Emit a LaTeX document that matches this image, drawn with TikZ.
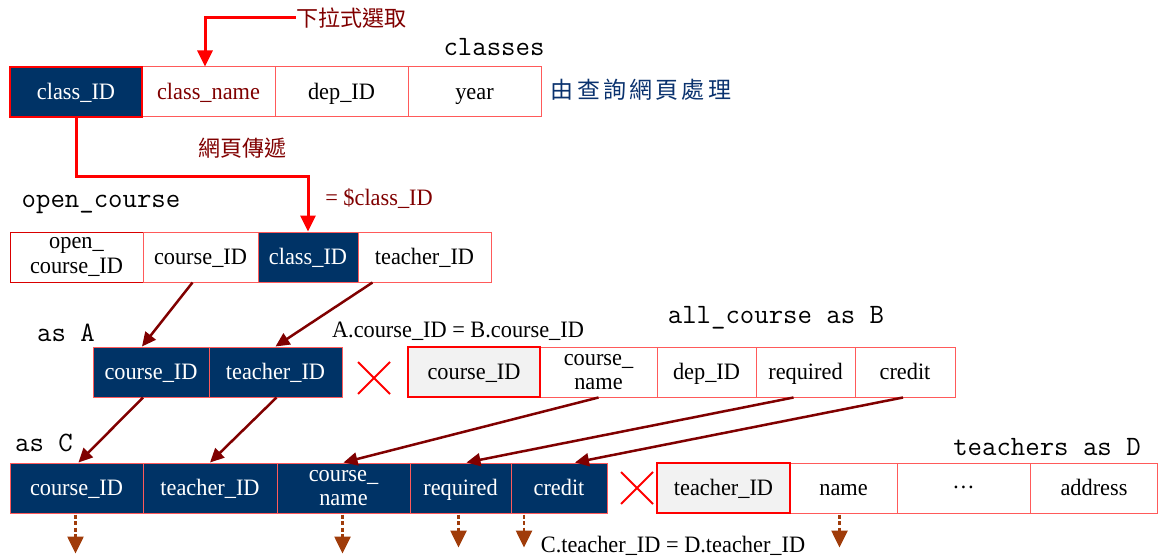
\documentclass[tikz,border=0pt]{standalone}
\usepackage{fontspec}
\setmainfont{Liberation Serif}
\newfontfamily\cellf[FakeStretch=0.95]{Liberation Serif}
\newfontfamily\cjk{Noto Sans CJK TC}
\newfontfamily\cjks[LetterSpace=14]{Noto Sans CJK TC}
\usetikzlibrary{arrows.meta,shapes.misc,calc}
\definecolor{navy}{RGB}{0,51,102}
\definecolor{lred}{RGB}{255,90,90}
\definecolor{dred}{RGB}{128,0,0}
\definecolor{keygray}{RGB}{242,242,242}
\definecolor{brown}{RGB}{160,60,10}
\definecolor{bluetxt}{RGB}{10,50,110}
\tikzset{
  cell/.style={draw=lred, line width=1pt, minimum height=50pt, minimum width=#1,
    inner sep=0pt, font=\cellf\fontsize{23.5}{24.5}\selectfont, align=center,
    text height=18pt, text depth=3pt},
  two/.style={text height={}, text depth={}},
  dk/.style={fill=navy, text=white},
  keycell/.style={fill=keygray, draw=red, line width=2.5pt},
  ttl/.style={font=\ttfamily\fontsize{28}{28}\selectfont, inner sep=0pt},
  lbl/.style={font=\cellf\fontsize{23.5}{24}\selectfont, inner sep=0pt},
  cjklbl/.style={font=\cjk\fontsize{22}{22}\selectfont, inner sep=0pt, text=dred},
  redarr/.style={draw=red, line width=3pt, -{Triangle[length=16pt,width=15pt]}},
  darr/.style={draw=dred, line width=2.5pt, -{Triangle[length=14pt,width=13pt]}},
  dasharr/.style={draw=brown, line width=2.6pt, dash pattern=on 4pt off 2.5pt,
    -{Triangle[length=17pt,width=16pt]}},
  xmark/.style={cross out, draw=red, line width=2pt, minimum size=30pt, inner sep=0pt}
}
\begin{document}
\begin{tikzpicture}[x=1pt,y=-1pt]
\useasboundingbox (0,0) rectangle (1159,559);
% classes
\node[cell=133,text=dred] (c2) at (208.5,92) {class\_name};
\node[cell=133] (c3) at (341.5,92) {dep\_ID};
\node[cell=133] (c4) at (474.5,92) {year};
\node[cell=132,dk,draw=red,line width=2.5pt] (c1) at (76,92) {class\_ID};
\node[ttl] (tc) at (494,47) {classes};
\node[font=\cjks\fontsize{23}{23}\selectfont, text=bluetxt, inner sep=0pt] (tq) at (641,90) {由查詢網頁處理};
\node[cjklbl] (t1) at (351,18) {下拉式選取};
\node[cjklbl] (t2) at (242,148) {網頁傳遞};
\node[lbl,text=dred] (t3) at (379,199) {= \$class\_ID};
% open_course
\node[ttl] (to) at (101,204) {open\_course};
\node[cell=133,two,draw=red!85!black] (o1) at (76.5,257) {open\_\\course\_ID};
\node[cell=115] (o2) at (200.5,257) {course\_ID};
\node[cell=100,dk] (o3) at (308,257) {class\_ID};
\node[cell=133] (o4) at (424.5,257) {teacher\_ID};
% A
\node[ttl] (ta) at (66,333) {as A};
\node[cell=116,dk] (a1) at (151,372) {course\_ID};
\node[cell=133,dk] (a2) at (275.5,372) {teacher\_ID};
\node[xmark] (x1) at (374,378) {};
\node[lbl] (ab) at (458,331) {A.course\_ID = B.course\_ID};
% B
\node[ttl] (tb) at (776,318) {all\_course as B};
\node[cell=117,two] (b2) at (598.5,372) {course\_\\name};
\node[cell=99] (b3) at (706.5,372) {dep\_ID};
\node[cell=99] (b4) at (805.5,372) {required};
\node[cell=100] (b5) at (905,372) {credit};
\node[cell=132,keycell] (b1) at (474,372) {course\_ID};
% C
\node[ttl] (tcc) at (44,443) {as C};
\node[cell=133,dk] (cc1) at (76.5,488) {course\_ID};
\node[cell=134,dk] (cc2) at (210,488) {teacher\_ID};
\node[cell=133,dk,two] (cc3) at (343.5,488) {course\_\\name};
\node[cell=101,dk] (cc4) at (460.5,488) {required};
\node[cell=96,dk] (cc5) at (559,488) {credit};
\node[xmark] (x2) at (637,488) {};
% D
\node[ttl] (td) at (1047,447) {teachers as D};
\node[cell=107] (d2) at (843.5,488) {name};
\node[cell=133] (d3) at (963.5,488) {\raisebox{0.3em}{…}};
\node[cell=127] (d4) at (1094,488) {address};
\node[cell=133,keycell] (d1) at (723.5,488) {teacher\_ID};
\node[lbl] (cd) at (673,546) {C.teacher\_ID = D.teacher\_ID};
% red arrows
\draw[redarr] (t1.west) -| ($(c2.north)+(-3.5,0)$);
\draw[redarr] (c1.south) -- ++(0,58) -| (o3.north);
% dark red arrows
\draw[darr] ($(o2.south)+(-8,0)$) -- ($(a1.north)+(-9,0)$);
\draw[darr] ($(o4.south)+(-52,0)$) -- (a2.north);
\draw[darr] ($(a1.south)+(-8,0)$) -- ($(cc1.north)+(2,0)$);
\draw[darr] ($(a2.south)+(1,0)$) -- (cc2.north);
\draw[darr] (b2.south) -- (cc3.north);
\draw[darr] ($(b4.south)+(-12,0)$) -- ($(cc4.north)+(6,0)$);
\draw[darr] ($(b5.south)+(-2,0)$) -- ($(cc5.north)+(16,0)$);
% dashed arrows
\draw[dasharr] ($(cc1.south)+(-1,1)$) -- ++(0,39);
\draw[dasharr] ($(cc3.south)+(-1,1)$) -- ++(0,39);
\draw[dasharr] ($(cc4.south)+(-2,1)$) -- ++(0,33);
\draw[dasharr] ($(cc5.south)+(-35,1)$) -- ++(0,33);
\draw[dasharr] ($(d2.south)+(-4,1)$) -- ++(0,33);
\end{tikzpicture}
\end{document}
